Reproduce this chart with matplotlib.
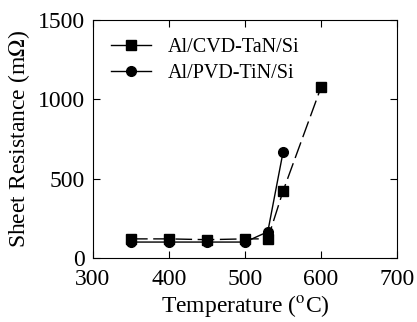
import matplotlib
matplotlib.use("Agg")
import matplotlib.pyplot as plt

plt.rcParams['font.family'] = ['Liberation Serif', 'DejaVu Serif']
plt.rcParams['mathtext.fontset'] = 'stix'

temp_tan = [350, 400, 450, 500, 530, 550, 600]
res_tan = [120, 120, 115, 120, 120, 420, 1075]
temp_tin = [350, 400, 450, 500, 530, 550]
res_tin = [100, 100, 100, 100, 165, 665]

fig = plt.figure(figsize=(4.17, 3.22), dpi=100)
ax = fig.add_axes([0.223, 0.199, 0.729, 0.739])

ax.plot(temp_tan, res_tan, color='black', marker='s', markersize=7,
        linewidth=1, dashes=(12, 4), label='Al/CVD-TaN/Si')
ax.plot(temp_tin, res_tin, color='black', marker='o', markersize=7,
        linewidth=1, label='Al/PVD-TiN/Si')

ax.set_xlim(300, 700)
ax.set_ylim(0, 1500)
ax.set_xticks([300, 400, 500, 600, 700])
ax.set_yticks([0, 500, 1000, 1500])
ax.tick_params(direction='in', top=True, right=True, labelsize=17, length=5)
ax.tick_params(axis='y', pad=6)
ax.tick_params(axis='x', pad=8)
ax.set_xlabel('Temperature ($^{\\rm o}$C)', fontsize=17, labelpad=2)
ax.set_ylabel('Sheet Resistance (m$\\Omega$)', fontsize=17, labelpad=4)

leg = ax.legend(loc='upper left', frameon=False, fontsize=14.5,
                handlelength=2.0, handletextpad=0.8, borderaxespad=0.5,
                labelspacing=0.35)
for h in leg.get_lines():
    h.set_linestyle('-')

fig.savefig('out.png', dpi=100)
